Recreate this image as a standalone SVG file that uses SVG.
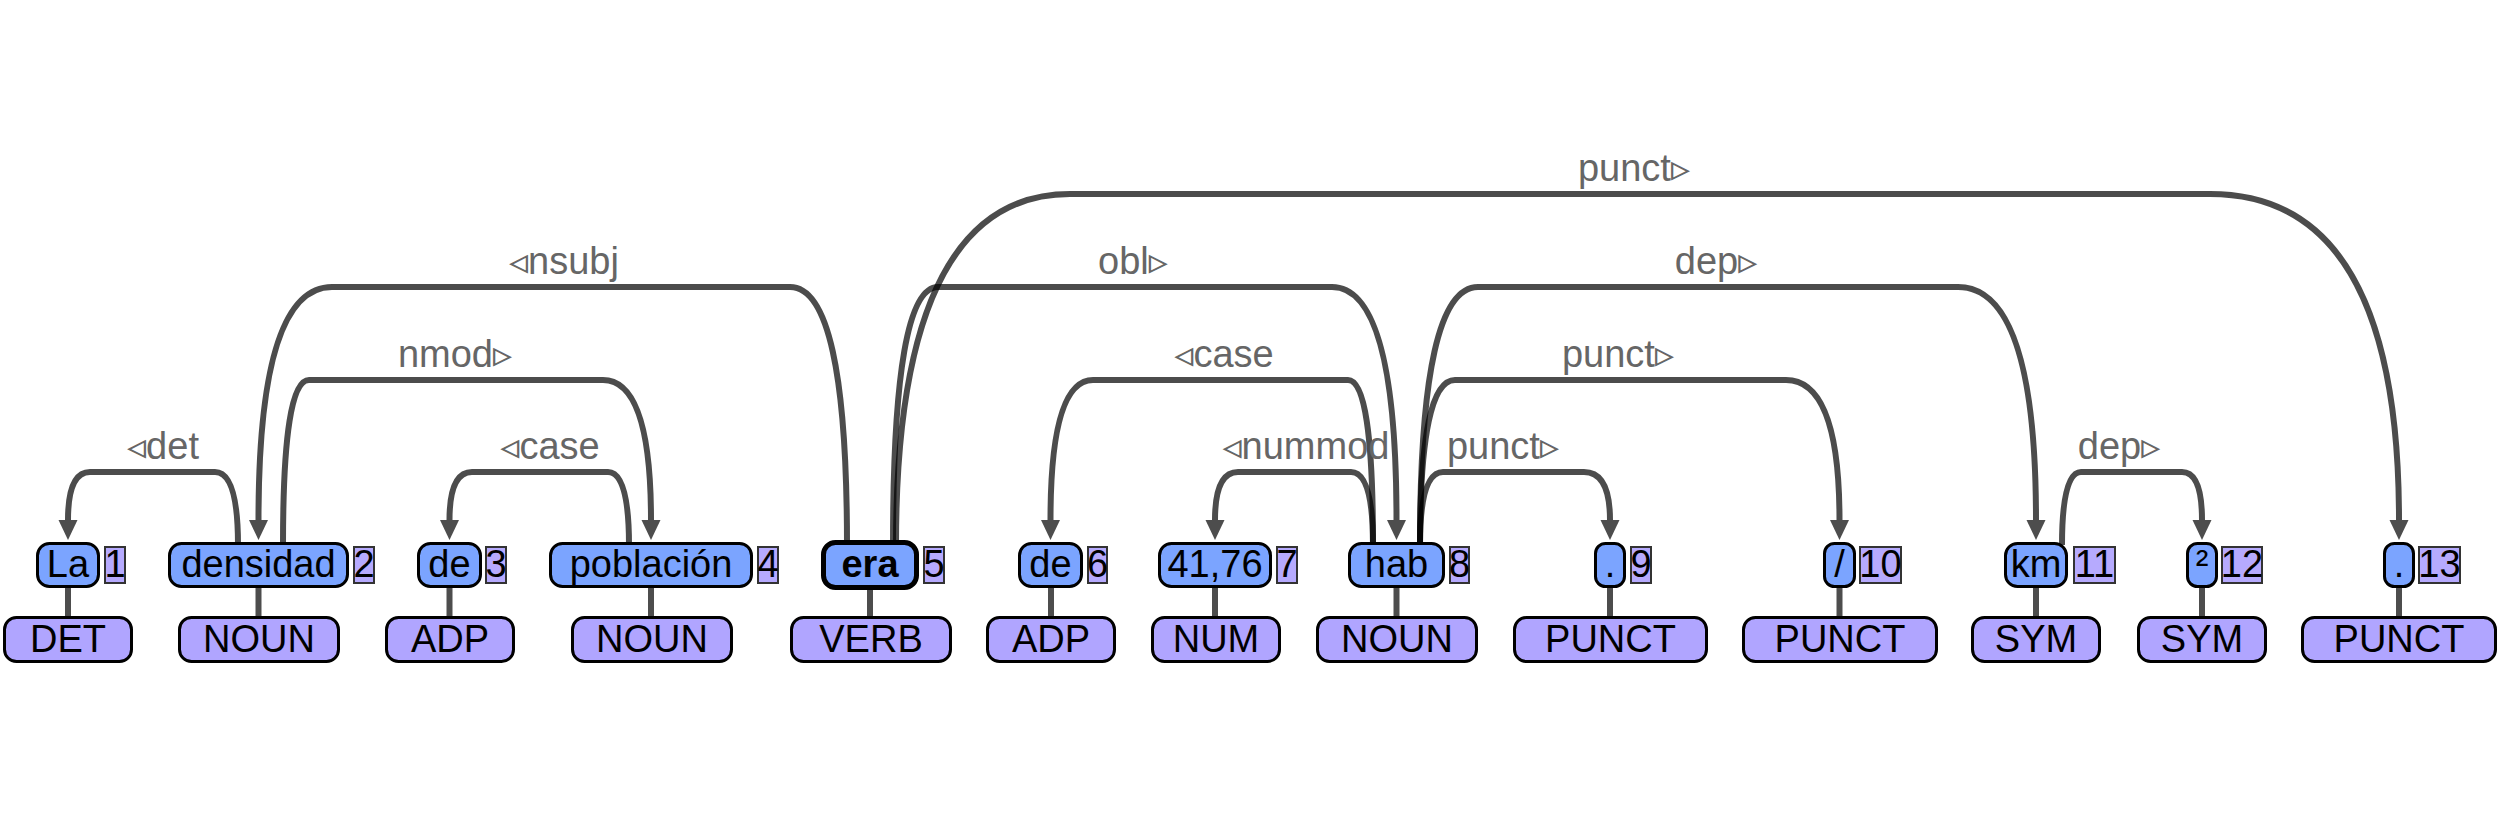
<svg xmlns="http://www.w3.org/2000/svg" width="2500" height="816" viewBox="0 0 2500 816">
<style>
text{font-family:"Liberation Sans",Arial,"DejaVu Sans",sans-serif;font-size:38px;text-anchor:middle;fill:#000}
.tok{fill:#7ba4ff;stroke:#000;stroke-width:3}
.root{fill:#7ba4ff;stroke:#000;stroke-width:5}
.pos{fill:#b0a5ff;stroke:#000;stroke-width:3}
.num{fill:#b6aafe;stroke:#333;stroke-width:2}
.stem{stroke:#4d4d4d;stroke-width:6}
.arc{fill:none;stroke:#000;stroke-opacity:0.7;stroke-width:6;marker-end:url(#ah)}
.lbl{fill:#666}
.b{font-weight:bold}
</style>
<defs>
<marker id="ah" viewBox="0 0 20 20" refX="0" refY="10" markerWidth="20" markerHeight="20" markerUnits="userSpaceOnUse" orient="auto"><path d="M0,0.5 L20,10 L0,19.5 z" fill="#4d4d4d"/></marker>
</defs>
<rect width="2500" height="816" fill="#fff"/>
<g id="connectors">
<path class="arc" d="M238,545 Q238,472 215,472 L90,472 Q68,472 68,520"/>
<path class="arc" d="M847,545 Q847,287 790,287 L332,287 Q258.5,287 258.5,520"/>
<path class="arc" d="M283,545 Q283,380 309,380 L603,380 Q651,380 651,520"/>
<path class="arc" d="M629,545 Q629,472 608,472 L472,472 Q449.5,472 449.5,520"/>
<path class="arc" d="M893,545 Q893,287 938,287 L1332,287 Q1396.5,287 1396.5,520"/>
<path class="arc" d="M896,545 Q896,194 1070,194 L2210,194 Q2399,194 2399,520"/>
<path class="arc" d="M1373,545 Q1373,380 1348,380 L1093,380 Q1050.5,380 1050.5,520"/>
<path class="arc" d="M1373,545 Q1373,472 1351,472 L1238,472 Q1215,472 1215,520"/>
<path class="arc" d="M1420,545 Q1420,472 1443,472 L1584,472 Q1610,472 1610,520"/>
<path class="arc" d="M1420,545 Q1420,380 1455,380 L1786,380 Q1839.5,380 1839.5,520"/>
<path class="arc" d="M1420,545 Q1420,287 1478,287 L1958,287 Q2036,287 2036,520"/>
<path class="arc" d="M2062,545 Q2062,472 2081,472 L2182,472 Q2202,472 2202,520"/>
<text class="lbl" x="163" y="459">◃det</text>
<text class="lbl" x="564" y="274">◃nsubj</text>
<text class="lbl" x="455" y="367">nmod▹</text>
<text class="lbl" x="550" y="459">◃case</text>
<text class="lbl" x="1133" y="274">obl▹</text>
<text class="lbl" x="1634" y="181">punct▹</text>
<text class="lbl" x="1224" y="367">◃case</text>
<text class="lbl" x="1306" y="459">◃nummod</text>
<text class="lbl" x="1503" y="459">punct▹</text>
<text class="lbl" x="1618" y="367">punct▹</text>
<text class="lbl" x="1716" y="274">dep▹</text>
<text class="lbl" x="2119" y="459">dep▹</text>
</g>
<g id="w1"><line class="stem" x1="68" y1="588" x2="68" y2="616"/><rect class="tok" x="37.5" y="543.5" width="61" height="43" rx="12"/><text x="68" y="577">La</text><rect class="num" x="105" y="547" width="20" height="36"/><text x="115" y="577">1</text><rect class="pos" x="4.5" y="617.5" width="127" height="44" rx="12"/><text x="68" y="652">DET</text></g>
<g id="w2"><line class="stem" x1="258.5" y1="588" x2="258.5" y2="616"/><rect class="tok" x="169.5" y="543.5" width="178" height="43" rx="12"/><text x="258.5" y="577">densidad</text><rect class="num" x="354" y="547" width="20" height="36"/><text x="364" y="577">2</text><rect class="pos" x="179.5" y="617.5" width="159" height="44" rx="12"/><text x="259" y="652">NOUN</text></g>
<g id="w3"><line class="stem" x1="449.5" y1="588" x2="449.5" y2="616"/><rect class="tok" x="418.5" y="543.5" width="62" height="43" rx="12"/><text x="449.5" y="577">de</text><rect class="num" x="486" y="547" width="20" height="36"/><text x="496" y="577">3</text><rect class="pos" x="386.5" y="617.5" width="127" height="44" rx="12"/><text x="450" y="652">ADP</text></g>
<g id="w4"><line class="stem" x1="651" y1="588" x2="651" y2="616"/><rect class="tok" x="550.5" y="543.5" width="201" height="43" rx="12"/><text x="651" y="577">población</text><rect class="num" x="758" y="547" width="20" height="36"/><text x="768" y="577">4</text><rect class="pos" x="572.5" y="617.5" width="159" height="44" rx="12"/><text x="652" y="652">NOUN</text></g>
<g id="w5"><line class="stem" x1="870" y1="588" x2="870" y2="616"/><rect class="root" x="823.5" y="542.5" width="93" height="45" rx="12"/><text class="b" x="870" y="577">era</text><rect class="num" x="924" y="547" width="20" height="36"/><text x="934" y="577">5</text><rect class="pos" x="791.5" y="617.5" width="159" height="44" rx="12"/><text x="871" y="652">VERB</text></g>
<g id="w6"><line class="stem" x1="1051" y1="588" x2="1051" y2="616"/><rect class="tok" x="1019.5" y="543.5" width="62" height="43" rx="12"/><text x="1050.5" y="577">de</text><rect class="num" x="1088" y="547" width="19" height="36"/><text x="1097.5" y="577">6</text><rect class="pos" x="987.5" y="617.5" width="127" height="44" rx="12"/><text x="1051" y="652">ADP</text></g>
<g id="w7"><line class="stem" x1="1215" y1="588" x2="1215" y2="616"/><rect class="tok" x="1159.5" y="543.5" width="111" height="43" rx="12"/><text x="1215" y="577">41,76</text><rect class="num" x="1277" y="547" width="20" height="36"/><text x="1287" y="577">7</text><rect class="pos" x="1152.5" y="617.5" width="127" height="44" rx="12"/><text x="1216" y="652">NUM</text></g>
<g id="w8"><line class="stem" x1="1396.5" y1="588" x2="1396.5" y2="616"/><rect class="tok" x="1349.5" y="543.5" width="94" height="43" rx="12"/><text x="1396.5" y="577">hab</text><rect class="num" x="1450" y="547" width="19" height="36"/><text x="1459.5" y="577">8</text><rect class="pos" x="1317.5" y="617.5" width="159" height="44" rx="12"/><text x="1397" y="652">NOUN</text></g>
<g id="w9"><line class="stem" x1="1610" y1="588" x2="1610" y2="616"/><rect class="tok" x="1595.5" y="543.5" width="29" height="43" rx="10"/><text x="1610" y="577">.</text><rect class="num" x="1631" y="547" width="20" height="36"/><text x="1641" y="577">9</text><rect class="pos" x="1514.5" y="617.5" width="192" height="44" rx="12"/><text x="1610.5" y="652">PUNCT</text></g>
<g id="w10"><line class="stem" x1="1839.5" y1="588" x2="1839.5" y2="616"/><rect class="tok" x="1824.5" y="543.5" width="30" height="43" rx="10"/><text x="1839.5" y="577">/</text><rect class="num" x="1860" y="547" width="41" height="36"/><text x="1880.5" y="577">10</text><rect class="pos" x="1743.5" y="617.5" width="193" height="44" rx="12"/><text x="1840" y="652">PUNCT</text></g>
<g id="w11"><line class="stem" x1="2036" y1="588" x2="2036" y2="616"/><rect class="tok" x="2005.5" y="543.5" width="61" height="43" rx="12"/><text x="2036" y="577">km</text><rect class="num" x="2074" y="547" width="41" height="36"/><text x="2094.5" y="577">11</text><rect class="pos" x="1972.5" y="617.5" width="127" height="44" rx="12"/><text x="2036" y="652">SYM</text></g>
<g id="w12"><line class="stem" x1="2202" y1="588" x2="2202" y2="616"/><rect class="tok" x="2187.5" y="543.5" width="29" height="43" rx="10"/><text x="2202" y="577">²</text><rect class="num" x="2222" y="547" width="40" height="36"/><text x="2242" y="577">12</text><rect class="pos" x="2138.5" y="617.5" width="127" height="44" rx="12"/><text x="2202" y="652">SYM</text></g>
<g id="w13"><line class="stem" x1="2399" y1="588" x2="2399" y2="616"/><rect class="tok" x="2384.5" y="543.5" width="29" height="43" rx="10"/><text x="2399" y="577">.</text><rect class="num" x="2419" y="547" width="41" height="36"/><text x="2439.5" y="577">13</text><rect class="pos" x="2302.5" y="617.5" width="193" height="44" rx="12"/><text x="2399" y="652">PUNCT</text></g>
</svg>
